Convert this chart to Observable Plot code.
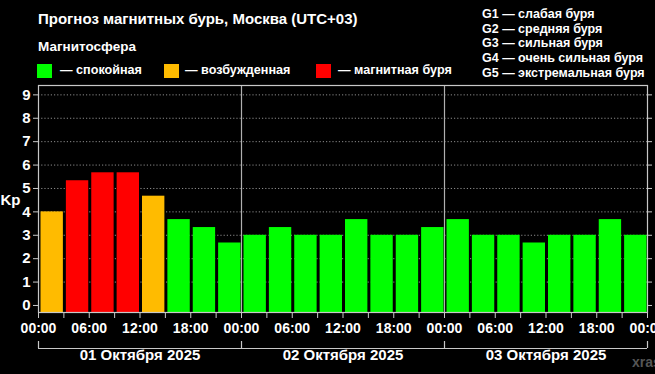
<!DOCTYPE html>
<html>
<head>
<meta charset="utf-8">
<script src="https://cdn.jsdelivr.net/npm/d3@7"></script>
<script src="https://cdn.jsdelivr.net/npm/@observablehq/plot@0.6"></script>
<style>
  html, body { margin: 0; padding: 0; background: #000; overflow: hidden; }
  #wrap { position: relative; width: 655px; height: 374px; background: #000; font-family: "Liberation Sans", Arial, sans-serif; font-weight: bold; color: #fff; overflow: hidden; }
  #wrap > .t { position: absolute; line-height: 1; white-space: nowrap; }
  .sw { position: absolute; width: 15px; height: 14px; }
</style>
</head>
<body>
<div id="wrap"></div>
<script>
// ---- data ----
const title = "Прогноз магнитных бурь, Москва (UTC+03)";
const legendTitle = "Магнитосфера";
const levels = ["спокойная", "возбужденная", "магнитная буря"];
const levelColors = ["#00ff00", "#ffbb00", "#ff0000"];
const gScale = [
  "G1 — слабая буря",
  "G2 — средняя буря",
  "G3 — сильная буря",
  "G4 — очень сильная буря",
  "G5 — экстремальная буря"
];
const dayLabels = ["01 Октября 2025", "02 Октября 2025", "03 Октября 2025"];
const timeLabels = ["00:00", "06:00", "12:00", "18:00"];
const kp = [
  4.00, 5.33, 5.67, 5.67, 4.67, 3.67, 3.33, 2.67,
  3.00, 3.33, 3.00, 3.00, 3.67, 3.00, 3.00, 3.33,
  3.67, 3.00, 3.00, 2.67, 3.00, 3.00, 3.67, 3.00
];
const yTicks = [0, 1, 2, 3, 4, 5, 6, 7, 8, 9];

// ---- derived table ----
const slotHours = 3;
const totalHours = dayLabels.length * 24;
const bars = kp.map((v, i) => ({
  start: i * slotHours,
  end: (i + 1) * slotHours,
  kp: v,
  level: v >= 5 ? levels[2] : v >= 4 ? levels[1] : levels[0]
}));
const days = dayLabels.map((d, i) => ({label: d, mid: i * 24 + 12}));
const dayBounds = d3.range(0, totalHours + 1, 24);
const yMin = -0.3, yMax = 9.4;

const wrap = document.getElementById("wrap");

const chart = Plot.plot({
  width: 655,
  height: 374,
  marginTop: 85,
  marginBottom: 62,
  marginLeft: 38,
  marginRight: 8,
  style: {background: "#000", color: "#fff", fontFamily: "Liberation Sans, Arial, sans-serif", fontWeight: "bold", fontSize: "14px"},
  x: {domain: [0, totalHours]},
  y: {domain: [yMin, yMax]},
  color: {domain: levels, range: levelColors},
  marks: [
    Plot.gridY(yTicks.slice(1), {stroke: "#9a9a9a", strokeOpacity: 0.9, strokeDasharray: "1.2,2"}),
    Plot.rectY(bars, {x1: "start", x2: "end", y1: yMin, y2: "kp", fill: "level", insetLeft: 2.5, insetRight: 0.5}),
    Plot.ruleX(dayBounds.slice(1, -1), {stroke: "#b0b0b0", strokeWidth: 1.2}),
    Plot.frame({stroke: "#c8c8c8", strokeWidth: 1.2}),
    Plot.axisY({ticks: yTicks, tickSize: 5, tickPadding: 3, label: null, fontSize: 15, stroke: "#c8c8c8", fill: "#fff"}),
    Plot.axisY({anchor: "right", ticks: yTicks, tickSize: 4, tickFormat: () => "", label: null, stroke: "#c8c8c8"}),
    Plot.axisX({ticks: d3.range(0, totalHours + 1, slotHours), tickSize: 6, tickFormat: () => "", label: null, stroke: "#c8c8c8"}),
    Plot.axisX({ticks: d3.range(0, totalHours + 1, 6), tickSize: 0, tickPadding: 11, tickFormat: h => timeLabels[(h / 6) % 4], label: null, fontSize: 14, fill: "#fff"}),
    Plot.text(["Kp"], {frameAnchor: "left", dx: -38, dy: 1, textAnchor: "start", fontSize: 15, fill: "#fff"}),
    Plot.ruleY([yMin], {x1: 0, x2: totalHours, dy: 36, stroke: "#c8c8c8", strokeWidth: 1.2}),
    Plot.tickX(dayBounds, {dy: 36, insetTop: 220, stroke: "#c8c8c8", strokeWidth: 1.2}),
    Plot.text(days, {x: "mid", text: "label", frameAnchor: "bottom", dy: 47, fontSize: 15, fill: "#fff"})
  ]
});
chart.style.position = "absolute";
chart.style.left = "0px";
chart.style.top = "0px";
wrap.appendChild(chart);

function addText(txt, left, top, size, color) {
  const d = document.createElement("div");
  d.className = "t";
  d.textContent = txt;
  d.style.left = left + "px";
  d.style.top = top + "px";
  d.style.fontSize = size + "px";
  if (color) d.style.color = color;
  wrap.appendChild(d);
  return d;
}
addText(title, 38, 10.8, 15);
addText(legendTitle, 38, 40.2, 13.5);
const swX = [37, 164, 316];
const txX = [60, 185, 338];
levels.forEach((l, i) => {
  const s = document.createElement("div");
  s.className = "sw";
  s.style.left = swX[i] + "px";
  s.style.top = "64px";
  s.style.background = levelColors[i];
  wrap.appendChild(s);
  addText("— " + l, txX[i], 63.5, 12.6);
});
gScale.forEach((g, i) => addText(g, 482, 8 + i * 14.7, 12.5));
addText("xras.ru", 632, 355, 14, "#555");
</script>
</body>
</html>
